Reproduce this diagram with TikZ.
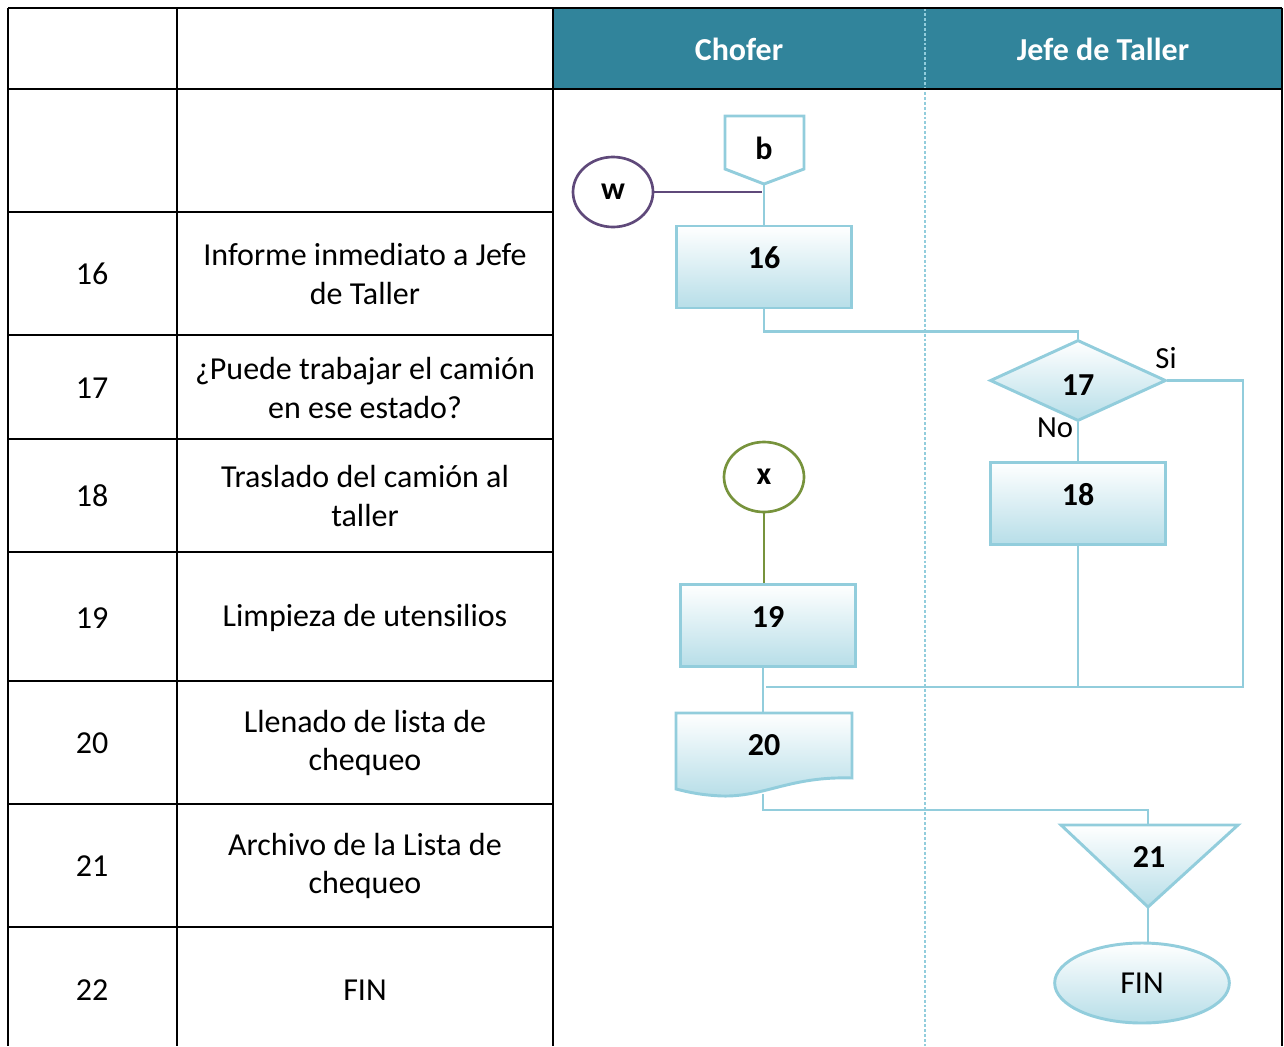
\documentclass[tikz,border=0pt]{standalone}
\usepackage{fontspec}
\setmainfont{Carlito}
\usetikzlibrary{shapes.geometric}
\definecolor{laneteal}{HTML}{31849B}
\definecolor{flowline}{HTML}{92CDDC}
\definecolor{flowfill}{HTML}{B7DEE8}
\definecolor{linkpurple}{HTML}{5F497A}
\definecolor{linkgreen}{HTML}{77933C}
\tikzset{
  tablerule/.style={line width=2pt, black},
  lanediv/.style={draw=flowline, line width=1.2pt, dash pattern=on 2.2pt off 1.5pt},
  lanehead/.style={text=white, font=\fontsize{24}{28}\selectfont\bfseries},
  cell/.style={align=center, font=\fontsize{24}{29}\selectfont},
  flow/.style={draw=flowline, line width=2.2pt},
  shapefill/.style={draw=flowline, line width=2.2pt, top color=white, bottom color=flowfill},
  procbox/.style={shapefill, rectangle, minimum width=131.5pt, minimum height=61.5pt, inner sep=0pt, text depth=13.5pt, font=\fontsize{24}{28}\selectfont\bfseries},
  decision/.style={shapefill, diamond, minimum width=132pt, minimum height=60.75pt, inner sep=0pt, text height=22.5pt, font=\fontsize{24}{28}\selectfont\bfseries},
  linkcirc/.style={ellipse, line width=2pt, fill=white, minimum width=60pt, minimum height=52.5pt, inner sep=0pt, font=\fontsize{24}{28}\selectfont\bfseries},
  terminal/.style={shapefill, ellipse, minimum width=131pt, minimum height=60pt, inner sep=0pt, font=\fontsize{24}{28}\selectfont},
  steptext/.style={font=\fontsize{24}{28}\selectfont\bfseries},
  branch/.style={font=\fontsize{23}{27}\selectfont}
}
\begin{document}
\begin{tikzpicture}[x=0.75pt, y=-0.75pt]
\useasboundingbox (0,0) rectangle (1284,1046);
% header of the lanes
\fill[laneteal] (553,8) rectangle (1282,89);
\draw[lanediv] (925,8) -- (925,1046);
\node[lanehead] (chofer) at (739,49) {Chofer};
\node[lanehead] (jefe) at (1103,49) {Jefe de Taller};
% table rules
\draw[tablerule] (8,8) -- (1282,8);
\draw[tablerule] (8,89) -- (1282,89);
\draw[tablerule] (8,212) -- (553,212) (8,335) -- (553,335) (8,439) -- (553,439) (8,552) -- (553,552);
\draw[tablerule] (8,681) -- (553,681) (8,804) -- (553,804) (8,927) -- (553,927);
\draw[tablerule] (8,8) -- (8,1046) (177,8) -- (177,1046) (553,8) -- (553,1046) (1282,8) -- (1282,1046);
% table texts
\node[cell] (n16) at (92,274) {16};
\node[cell] (t16) at (365,274) {Informe inmediato a Jefe\\de Taller};
\node[cell] (n17) at (92,388) {17};
\node[cell] (t17) at (365,388) {¿Puede trabajar el camión\\en ese estado?};
\node[cell] (n18) at (92,496) {18};
\node[cell] (t18) at (365,496) {Traslado del camión al\\taller};
\node[cell] (n19) at (92,618) {19};
\node[cell] (t19) at (365,618) {Limpieza de utensilios};
\node[cell] (n20) at (92,743) {20};
\node[cell] (t20) at (365,743) {Llenado de lista de\\chequeo};
\node[cell] (n21) at (92,866) {21};
\node[cell] (t21text) at (365,866) {Archivo de la Lista de\\chequeo};
\node[cell] (n22) at (92,990) {22};
\node[cell] (t22) at (365,990) {FIN};
% off-page connector b and link w
\draw[flow, fill=white] (725,116) -- (804,116) -- (804,169) -- (764,184) -- (725,169) -- cycle;
\node[steptext] (b) at (764,148) {b};
\coordinate (btip) at (764,184);
\node[linkcirc, draw=linkpurple] (linkw) at (613,192) {w};
\coordinate (wend) at (762,192);
\draw[linkpurple, line width=2pt] (linkw.east) -- (wend);
% steps
\node[procbox] (p16) at (764,267) {16};
\draw[flow] (btip) -- (p16.north);
\node[decision] (d17) at (1078,380.5) {17};
\draw[flow] (p16.south) -- ++(0,22) -| (d17.north);
\node[branch] (si) at (1166,358) {Si};
\node[branch] (no) at (1055,428) {No};
\node[procbox] (p18) at (1078,503.5) {18};
\draw[flow] (d17.south) -- (p18.north);
\coordinate (sicorner) at (1243,687);
\coordinate (merge) at (766,687);
\draw[flow] (d17.east) -| (sicorner) -- (merge);
\draw[flow] (p18.south) -- (p18.south |- merge);
\node[linkcirc, draw=linkgreen] (linkx) at (764,477) {x};
\node[procbox] (p19) at (768,625.5) {19};
\draw[linkgreen, line width=2pt] (linkx.south) -- (linkx.south |- p19.north);
% document 20
\draw[shapefill] (676,713) -- (852,713) -- (852,778) .. controls (790,776) and (765,797) .. (722,796) .. controls (700,795) and (688,792) .. (676,789) -- cycle;
\node[steptext] (p20) at (764,745) {20};
\coordinate (p20top) at (763,713);
\coordinate (p20bot) at (763,794);
\draw[flow] (p20top |- p19.south) -- (p20top);
% archive 21 and end
\draw[shapefill] (1061,825) -- (1238,825) -- (1148,907) -- cycle;
\node[steptext] (t21) at (1149,857) {21};
\coordinate (t21top) at (1148,825);
\coordinate (t21tip) at (1148,907);
\draw[flow] (p20bot) -- ++(0,16) -| (t21top);
\node[terminal] (fin) at (1142,983) {FIN};
\draw[flow] (t21tip) -- (t21tip |- fin.north);
\end{tikzpicture}
\end{document}
